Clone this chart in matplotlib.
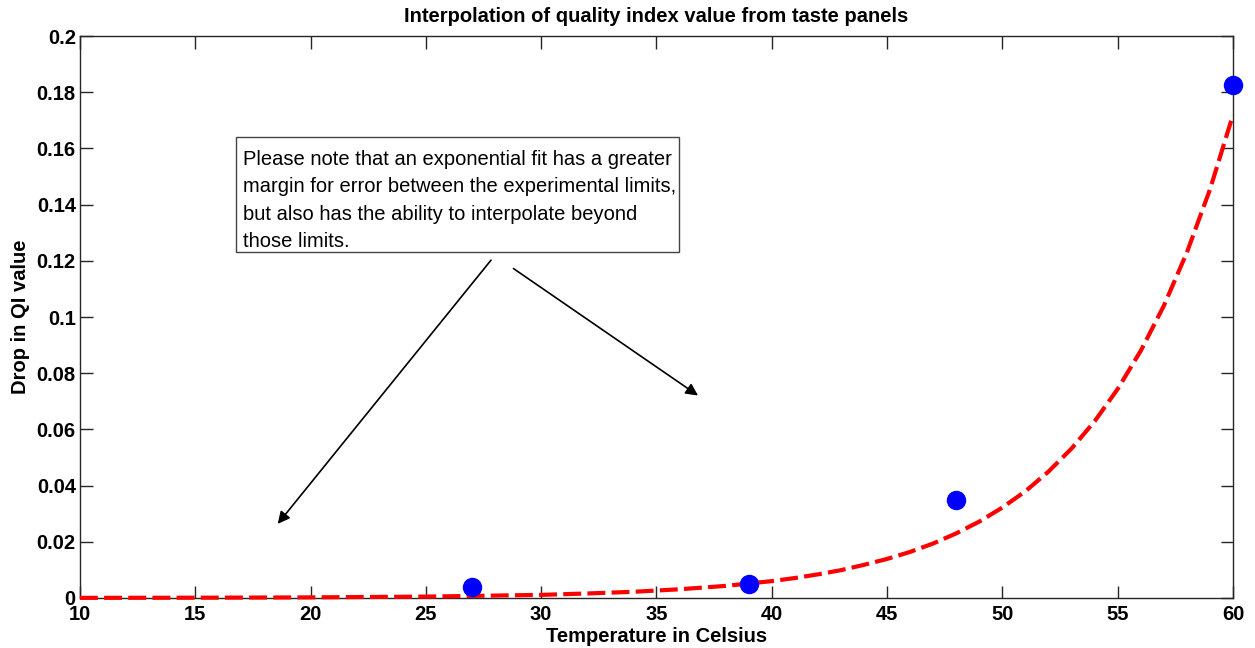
import numpy as np
import matplotlib.pyplot as plt
from matplotlib.patches import Rectangle

# measured points (taste panels)
temp_pts = [27, 39, 48, 60]
drop_pts = [0.0039, 0.0049, 0.0348, 0.1824]

# exponential fit curve
fit_temp = [10, 15, 20, 25, 30, 32, 34, 36, 38, 40, 41, 42, 43, 44, 45, 46, 47, 48,
            49, 50, 51, 52, 53, 54, 55, 56, 57, 58, 59, 60]
fit_drop = [0.00004, 0.00009, 0.00021, 0.00049, 0.0011, 0.0016, 0.0022, 0.0031, 0.0043,
            0.0060, 0.0071, 0.0084, 0.0099, 0.0118, 0.0139, 0.0164, 0.0194, 0.0230,
            0.0272, 0.0322, 0.0380, 0.0450, 0.0532, 0.0629, 0.0744, 0.0880, 0.1040,
            0.1230, 0.1454, 0.172]

xticks = [10, 15, 20, 25, 30, 35, 40, 45, 50, 55, 60]
yticks = [0, 0.02, 0.04, 0.06, 0.08, 0.1, 0.12, 0.14, 0.16, 0.18, 0.2]
ytick_labels = ['0', '0.02', '0.04', '0.06', '0.08', '0.1', '0.12', '0.14', '0.16', '0.18', '0.2']

note = ("Please note that an exponential fit has a greater\n"
        "margin for error between the experimental limits,\n"
        "but also has the ability to interpolate beyond\n"
        "those limits.")

plt.rcParams['font.family'] = ['Liberation Sans', 'DejaVu Sans']

fig = plt.figure(figsize=(12.55, 6.48), dpi=100)
ax = fig.add_axes([0.0637, 0.0772, 0.9188, 0.8672])

ax.plot(fit_temp, fit_drop, color='red', lw=3, dashes=(4.3, 1.5), clip_on=False, zorder=3)
ax.plot(temp_pts, drop_pts, 'o', color='blue', ms=13, clip_on=False, zorder=4)

ax.set_xlim(10, 60)
ax.set_ylim(0, 0.2)
ax.set_xticks(xticks)
ax.set_xticklabels([str(t) for t in xticks])
ax.set_yticks(yticks)
ax.set_yticklabels(ytick_labels)
ax.tick_params(direction='in', length=9, width=1, top=True, right=True,
               labelsize=14.5, pad=3, colors='#262626')
ax.tick_params(axis='x', pad=5)
for lab in ax.get_xticklabels() + ax.get_yticklabels():
    lab.set_fontweight('bold')
    lab.set_color('black')
for sp in ax.spines.values():
    sp.set_color('#262626')
    sp.set_linewidth(1)

ax.set_xlabel('Temperature in Celsius', fontsize=14.5, fontweight='bold', labelpad=2)
ax.set_ylabel('Drop in QI value', fontsize=14.5, fontweight='bold', labelpad=5)
ax.set_title('Interpolation of quality index value from taste panels',
             fontsize=14.5, fontweight='bold', pad=10)

# note box
ax.add_patch(Rectangle((16.77, 0.1231), 19.2, 0.041, fc='white', ec='#444444', lw=1, zorder=5))
ax.text(10 + (243 - 80) / 23.06, 0.1415, note, fontsize=14.5, va='center', ha='left',
        linespacing=1.57, zorder=6)

arrow = dict(arrowstyle='-|>', color='black', lw=1.2, mutation_scale=18)
ax.annotate('', xy=(18.5, 0.0256), xytext=(27.9, 0.121), arrowprops=arrow)
ax.annotate('', xy=(36.9, 0.0715), xytext=(28.7, 0.1178), arrowprops=arrow)

fig.savefig('out.png', dpi=100)
